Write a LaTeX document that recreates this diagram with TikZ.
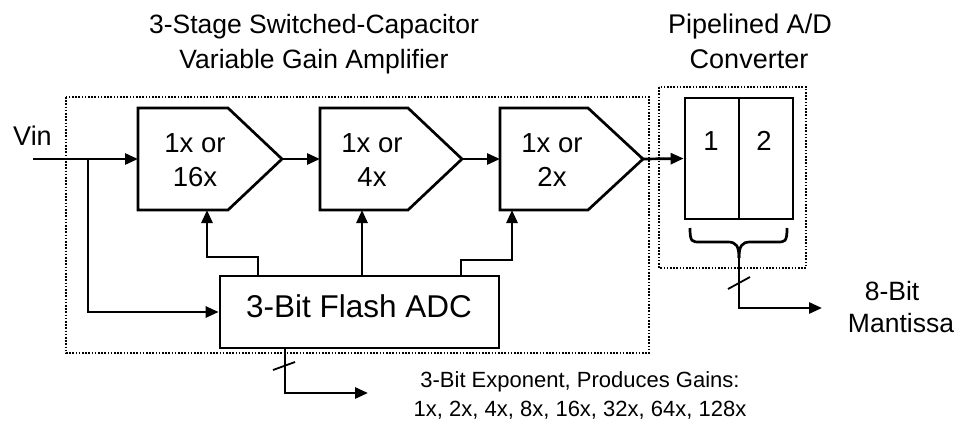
\documentclass[tikz,border=0pt]{standalone}
\usepackage{fontspec}
\setmainfont{Liberation Sans}
\usetikzlibrary{arrows.meta}
\begin{document}
\begin{tikzpicture}[x=1pt,y=-1pt,
  ln/.style={line width=2.7pt},
  arr/.style={ln,-{Triangle[length=13pt,width=11pt]}},
  dotbox/.style={line width=1.8pt, dash pattern=on 1.6pt off 1.6pt},
  lbl/.style={inner sep=0pt, anchor=base},
  blk/.style={draw, ln, inner sep=0pt},
  fa/.style={font=\fontsize{26.5}{30}\selectfont},
  fm/.style={font=\fontsize{27.5}{31}\selectfont},
  fb/.style={font=\fontsize{27}{31}\selectfont},
  fc/.style={font=\fontsize{31.5}{36}\selectfont},
  fd/.style={font=\fontsize{22}{26}\selectfont},
  amp/.style={ln, line join=miter}
]
\useasboundingbox (0,0) rectangle (969,426);

% titles
\node[lbl,fa] (title1) at (314,33) {3-Stage Switched-Capacitor};
\node[lbl,fa] (title2) at (314,68) {Variable Gain Amplifier};
\node[lbl,fb] (ptitle1) at (750,33) {Pipelined A/D};
\node[lbl,fb] (ptitle2) at (749,68) {Converter};

% dotted boxes
\draw[dotbox] (66,97) rectangle (649,353);
\draw[dotbox] (659,87) rectangle (806,268);

% amplifiers
\draw[amp] (138,108) -- (228,108) -- (282,159) -- (228,210) -- (138,210) -- cycle;
\draw[amp] (320,108) -- (408,108) -- (462,159) -- (408,210) -- (320,210) -- cycle;
\draw[amp] (500,108) -- (588,108) -- (643,159) -- (588,210) -- (500,210) -- cycle;
\coordinate (a1in) at (138,159); \coordinate (a1out) at (282,159); \coordinate (a1b) at (207,210);
\coordinate (a2in) at (320,159); \coordinate (a2out) at (462,159); \coordinate (a2b) at (362,210);
\coordinate (a3in) at (500,159); \coordinate (a3out) at (643,159); \coordinate (a3b) at (512,210);

\node[lbl,fm] (t1a) at (195,152) {1x or};
\node[lbl,fm] (t1b) at (195,186) {16x};
\node[lbl,fm] (t2a) at (372,152) {1x or};
\node[lbl,fm] (t2b) at (372,186) {4x};
\node[lbl,fm] (t3a) at (552,152) {1x or};
\node[lbl,fm] (t3b) at (552,186) {2x};

% flash ADC
\node[blk, minimum width=279pt, minimum height=72pt] (flash) at (359.5,312) {};
\node[lbl,fc] (flashtxt) at (359,317) {3-Bit Flash ADC};

% pipeline ADC
\node[blk, minimum width=54pt, minimum height=121pt] (p1) at (712,158.5) {};
\node[blk, minimum width=54pt, minimum height=121pt] (p2) at (766,158.5) {};
\node[lbl,fm] (p1t) at (711,150) {1};
\node[lbl,fm] (p2t) at (764,150) {2};

% input
\node[lbl,fb] (vin) at (32.5,145) {Vin};
\coordinate (vs) at (33,159);
\coordinate (jn) at (88,159);
\draw[arr] (vs) -- (a1in);
\draw[arr] (jn) |- (flash.west);

% signal chain
\draw[arr] (a1out) -- (a2in);
\draw[arr] (a2out) -- (a3in);
\draw[arr] (a3out) -- (p1.west);

% control lines
\coordinate (k1) at (258,257);
\coordinate (k3) at (461,260);
\draw[arr] (flash.north -| k1) -- (k1) -| (a1b);
\draw[arr] (flash.north -| a2b) -- (a2b);
\draw[arr] (flash.north -| k3) -- (k3) -| (a3b);

% brace
\draw[ln] (690,228) .. controls (690,242) and (692,242) .. (700,242) -- (728,242) .. controls (736,242) and (739,246) .. (739,258);
\draw[ln] (787,228) .. controls (787,242) and (785,242) .. (777,242) -- (750,242) .. controls (742,242) and (739,246) .. (739,258);
\coordinate (bt) at (739,258);
\coordinate (mo) at (822,308);
\draw[arr] (bt) |- (mo);
\draw[line width=1.8pt] (728,289) -- (750,277);
\node[lbl,fa] (mant1) at (892,300) {8-Bit};
\node[lbl,fa] (mant2) at (901,332) {Mantissa};

% exponent
\coordinate (es) at (285,393);
\coordinate (eo) at (368,393);
\draw[arr] (flash.south -| es) -- (es) -- (eo);
\draw[line width=1.8pt] (273,370) -- (295,362);
\node[lbl,fd] (exp1) at (580,387) {3-Bit Exponent, Produces Gains:};
\node[lbl,fd] (exp2) at (580,416) {1x, 2x, 4x, 8x, 16x, 32x, 64x, 128x};
\end{tikzpicture}
\end{document}
